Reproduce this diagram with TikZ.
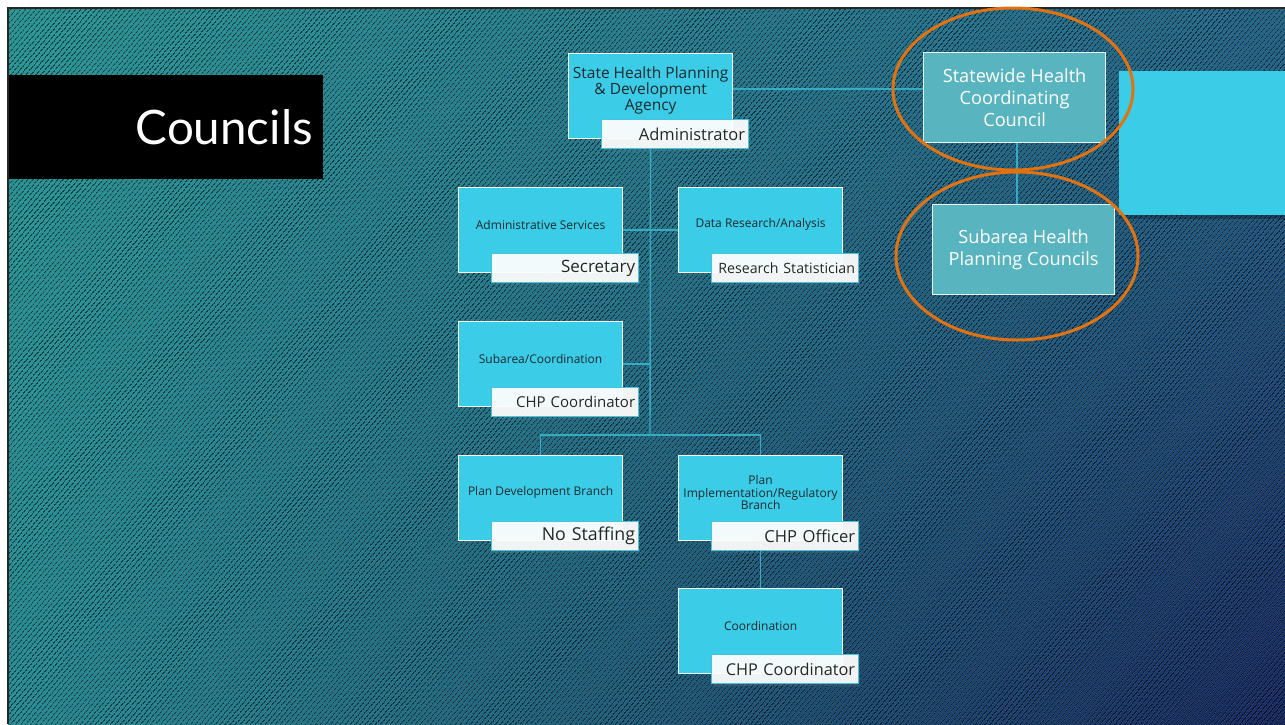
\documentclass[tikz,border=0pt]{standalone}
\usepackage{fontspec}
\newfontfamily\boxfont{Open Sans}
\newfontfamily\titlefont{Lato}
\usetikzlibrary{patterns.meta,shadows,shadings}

\definecolor{boxcyan}{RGB}{59,205,231}
\definecolor{boxtext}{RGB}{28,40,46}
\definecolor{rolecyan}{RGB}{70,196,222}
\definecolor{linkcyan}{RGB}{52,172,196}
\definecolor{councilfill}{RGB}{88,180,190}
\definecolor{ringorange}{RGB}{226,114,16}
\definecolor{bgUL}{RGB}{40,152,152}
\definecolor{bgLL}{RGB}{38,142,150}
\definecolor{bgUR}{RGB}{36,104,140}
\definecolor{bgLR}{RGB}{22,40,96}

\pgfdeclarelayer{back}
\pgfdeclarelayer{links}
\pgfsetlayers{back,links,main}

\begin{document}
\begin{tikzpicture}[x=1pt,y=-1pt,
  unitbox/.style={draw=white, line width=1.2pt, fill=boxcyan, anchor=north west,
    minimum width=164pt, minimum height=85pt, inner sep=0pt},
  unittext/.style={text=boxtext, align=center, inner sep=0pt, yshift=5.5pt,
    font=\boxfont\fontsize{12}{12.5}\selectfont},
  rolebox/.style={draw=rolecyan, line width=1.2pt, fill=white, fill opacity=0.93,
    text opacity=1, text=black!85, anchor=north west, minimum width=147pt,
    minimum height=29pt, text width=140pt, align=right, inner xsep=3.5pt,
    drop shadow={opacity=0.2, shadow xshift=1pt, shadow yshift=-2pt}},
  councilbox/.style={draw=white!85!councilfill, line width=1.2pt, fill=councilfill,
    anchor=north west, minimum width=182pt, minimum height=90pt, text=white,
    align=center, font=\boxfont\fontsize{18.2}{22}\selectfont},
  link/.style={draw=linkcyan, line width=1.4pt},
  ring/.style={draw=ringorange, line width=3pt}]

\useasboundingbox (0,0) rectangle (1285,724);

% slide background: gradient with fine diagonal weave
\begin{pgfonlayer}{back}
  \fill[white] (0,0) rectangle (1285,724);
  \shade[upper left=bgUL, lower left=bgLL, upper right=bgUR, lower right=bgLR]
    (8,8) rectangle (1285,724);
  \fill[pattern={Lines[angle=50, distance=4pt, line width=1.9pt]},
    pattern color=black, opacity=0.55] (8,8) rectangle (1285,724);
  \draw[black!85, line width=1.5pt] (8,724) -- (8,8) -- (1285,8);
\end{pgfonlayer}

% title bar
\node[fill=black, anchor=north west, minimum width=314pt, minimum height=104pt,
  inner sep=0pt] (titlebar) at (9,75) {};
\node[anchor=east, text=white, inner sep=0pt,
  font=\titlefont\fontsize{47.5}{52}\selectfont] (title) at (313,127) {Councils};

% cyan accent block on the right
\fill[black, opacity=0.25] (1119,74) rectangle (1285,219);
\fill[boxcyan] (1119,71) rectangle (1285,215);

% organisation units
\node[unitbox] (agency) at (568,53) {};
\node[unittext, font=\boxfont\fontsize{15.5}{16}\selectfont] (agencyT) at (agency.center)
  {State Health Planning\\ \& Development\\ Agency};
\node[rolebox, font=\boxfont\fontsize{16.5}{18}\selectfont] (agencyR) at (601,119) {Administrator};

\node[unitbox] (adminsvc) at (458,187) {};
\node[unittext] (adminsvcT) at (adminsvc.center) {Administrative Services};
\node[rolebox, font=\boxfont\fontsize{17}{18}\selectfont] (adminsvcR) at (491,253) {Secretary};

\node[unitbox] (datares) at (678,187) {};
\node[unittext] (dataresT) at (datares.center) {Data Research/Analysis};
\node[rolebox, font=\boxfont\fontsize{14.2}{16}\selectfont] (dataresR) at (711,253) {Research Statistician};

\node[unitbox] (subcoord) at (458,321) {};
\node[unittext] (subcoordT) at (subcoord.center) {Subarea/Coordination};
\node[rolebox, font=\boxfont\fontsize{15}{18}\selectfont] (subcoordR) at (491,387) {CHP Coordinator};

\node[unitbox] (plandev) at (458,455) {};
\node[unittext] (plandevT) at (plandev.center) {Plan Development Branch};
\node[rolebox, font=\boxfont\fontsize{17.8}{20}\selectfont] (plandevR) at (491,521) {No Staffing};

\node[unitbox] (planimp) at (678,455) {};
\node[unittext] (planimpT) at (planimp.center) {Plan\\ Implementation/Regulatory\\ Branch};
\node[rolebox, font=\boxfont\fontsize{16.6}{20}\selectfont] (planimpR) at (711,521) {CHP Officer};

\node[unitbox] (coord) at (678,588) {};
\node[unittext] (coordT) at (coord.center) {Coordination};
\node[rolebox, font=\boxfont\fontsize{16.3}{20}\selectfont] (coordR) at (711,654) {CHP Coordinator};

% councils
\node[councilbox] (statewide) at (923,52) {Statewide Health\\ Coordinating\\ Council};
\node[councilbox] (subcouncils) at (932,204) {Subarea Health\\ Planning Councils};

% reporting lines
\coordinate (swlink) at (0,89);
\coordinate (cnlink) at (1017,0);
\coordinate (split) at (650,435);
\begin{pgfonlayer}{links}
  \draw[link] (agency.east |- swlink) -- (statewide.west |- swlink);
  \draw[link] (statewide.south -| cnlink) -- (subcouncils.north -| cnlink);
  \draw[link] (agency.south) -- (split);
  \draw[link] (adminsvc.east) -- (datares.west);
  \draw[link] (subcoord.east) -- (subcoord.east -| split);
  \draw[link] (plandev.north) -- (plandev.north |- split) -- (planimp.north |- split) -- (planimp.north);
  \draw[link] (planimp.south) -- (coord.north);
\end{pgfonlayer}

% highlight rings
\draw[ring] (1013,89) ellipse [x radius=120pt, y radius=81pt];
\draw[ring] (1017,256) ellipse [x radius=121pt, y radius=84pt];

\end{tikzpicture}
\end{document}
